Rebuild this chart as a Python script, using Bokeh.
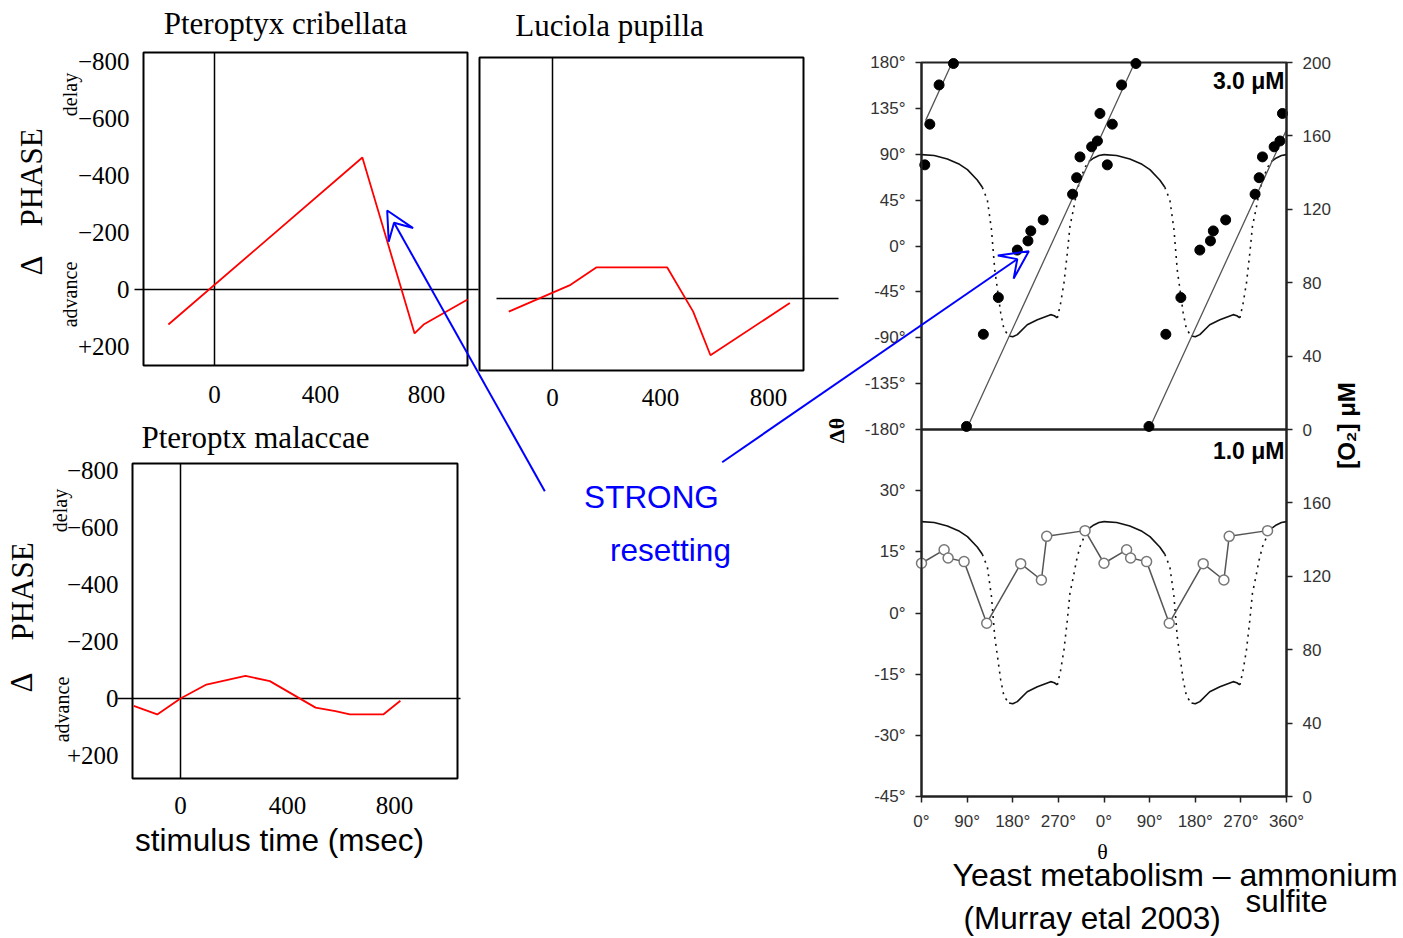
import math
from bokeh.plotting import figure
from bokeh.models import Range1d, LinearAxis, FixedTicker, Arrow, VeeHead
from bokeh.core.properties import value
from bokeh.embed import file_html
from bokeh.resources import INLINE

W, H = 1403, 938
SERIF = "Liberation Serif"
SANS = "Liberation Sans"
RED = "#ff0000"
BLUE = "#0000ff"
NAN = float("nan")

# ---------------- data ----------------
# Firefly phase response curves (stimulus time in msec, phase shift; negative = delay)
cribellata_time = [-174, 558, 755, 789, 955]
cribellata_shift = [123, -463, 154, 123, 35]
pupilla_time = [-162, 67, 162, 425, 521, 585, 879]
pupilla_shift = [46, -48, -109, -109, 46, 199, 16]
malaccae_time = [-175, -87, 0, 97, 243, 334, 505, 579, 633, 758, 822]
malaccae_shift = [26, 56, 0, -49, -79, -61, 32, 44, 56, 56, 8]

shift_ticks = [-800, -600, -400, -200, 0, 200]
shift_tick_labels = ["\u2212800", "\u2212600", "\u2212400", "\u2212200", "0", "+200"]
time_ticks = [0, 400, 800]

# Yeast metabolism (Murray et al 2003), one cycle of theta (double plotted)
theta_3uM = [6.5, 16.4, 34.7, 63, 88.7, 122, 151.6, 189, 210, 215.6, 240, 298, 306, 312.6, 335.6, 347, 352]
dtheta_3uM = [79.6, 119.5, 158, 179, -177, -86.6, -50.6, -4, 5, 14.8, 25.6, 50.8, 67, 87.4, 97.3, 103, 130]
fit_theta = [8, 60.5, NAN, 88.6, 420.7, NAN, 448.6, 720]
fit_dtheta = [123, 180, NAN, -180, 180, NAN, -180, 114]
theta_1uM = [0, 44.6, 52.5, 84, 128.7, 195.7, 236.5, 247, 322.6]
dtheta_1uM = [12.2, 15.5, 13.5, 12.6, -2.5, 12.1, 8.1, 18.8, 20.2]

o2_high_theta = [0, 25, 51, 75, 90.6, 110, 120]
o2_high = [149.8, 149.3, 147.4, 144.5, 141.6, 136, 132]
o2_fall_theta = [120, 130, 138, 144.5, 150, 156.3, 162.8, 172.7]
o2_fall = [132, 125, 109, 87, 76, 63.5, 54.4, 51]
o2_low_theta = [172.7, 180, 189, 208.6, 228.6, 254.8, 262, 268]
o2_low = [51, 50.5, 51.7, 57.1, 59.8, 62.6, 62, 60.8]
o2_rise_theta = [268, 274.5, 281, 287.7, 292.8, 299.6, 306, 312.6, 323.8, 330]
o2_rise = [60.8, 68.9, 79.8, 96.2, 110.7, 119.8, 128.9, 136.1, 143.4, 146]
o2_end_theta = [330, 340, 350, 360]
o2_end = [146, 148, 149.3, 149.8]

theta_ticks = [0, 90, 180, 270, 360, 450, 540, 630, 720]
theta_tick_labels = ["0°", "90°", "180°", "270°", "0°", "90°", "180°", "270°", "360°"]
dtheta_ticks_3uM = [-180, -135, -90, -45, 0, 45, 90, 135, 180]
dtheta_ticks_1uM = [-45, -30, -15, 0, 15, 30]
o2_ticks_3uM = [0, 40, 80, 120, 160, 200]
o2_ticks_1uM = [0, 40, 80, 120, 160]


def two_cycles(th, v):
    return list(th) + [t + 360 for t in th], list(v) + list(v)


# ---------------- layout (page pixels) ----------------
# firefly panels: frame box, pixel of the zero point, pixels per data unit
FF = {
    "cri": dict(L=143, R=467, T=52, B=365, x0=214, y0=289, ppx=106 / 400, hl=(134, 478), yaxis=True, xs=20),
    "pup": dict(L=479, R=803, T=57, B=370, x0=552, y0=298, ppx=108 / 400, hl=(496, 838), yaxis=False, xs=18),
    "mal": dict(L=132, R=457, T=463, B=778, x0=180, y0=698, ppx=107 / 400, hl=(117, 460), yaxis=True, xs=18),
}
PPY = 57 / 200
YL, YR, YT, YM, YB = 921, 1286, 62, 429, 796   # yeast panels


def value_at(px, px_a, px_b, v_a, v_b):
    return v_a + (px - px_a) * (v_b - v_a) / (px_b - px_a)


xr, yr = {}, {}
for n, g in FF.items():
    xr[n] = Range1d(-g["x0"] / g["ppx"], (W - g["x0"]) / g["ppx"])
    yr[n] = Range1d((H - g["y0"]) / PPY, -g["y0"] / PPY)
xr["theta"] = Range1d(value_at(0, YL, YR, 0, 720), value_at(W, YL, YR, 0, 720))
for n, (pb, pt, vb, vt) in {"d3": (YM, YT, -180, 180), "o3": (YM, YT, 0, 200),
                            "d1": (YB, YM, -45, 45), "o1": (YB, YM, 0, 200)}.items():
    yr[n] = Range1d(value_at(H, pb, pt, vb, vt), value_at(0, pb, pt, vb, vt))

c = figure(width=W, height=H, x_range=Range1d(0, W), y_range=Range1d(H, 0),
           output_backend="svg", toolbar_location=None, title_location=None,
           x_axis_location=None, y_axis_location=None, min_border=0,
           outline_line_color=None, background_fill_color="white", border_fill_color="white")
c.grid.visible = False
c.extra_x_ranges = xr
c.extra_y_ranges = yr


def style_axis(ax, font, size, color, standoff, tick_out, line_color):
    ax.axis_line_color = line_color
    ax.axis_line_width = 2
    ax.major_tick_line_color = line_color if tick_out else None
    ax.major_tick_line_width = 1.5
    ax.major_tick_out = tick_out
    ax.major_tick_in = 0
    ax.minor_tick_line_color = None
    ax.major_label_text_font = font
    ax.major_label_text_font_size = size
    ax.major_label_text_color = color
    ax.major_label_standoff = standoff


# ---------------- firefly panels ----------------
series = {"cri": (cribellata_time, cribellata_shift), "pup": (pupilla_time, pupilla_shift),
          "mal": (malaccae_time, malaccae_shift)}
for n, g in FF.items():
    t, s = series[n]
    xl = (g["L"] - g["x0"]) / g["ppx"]
    yb = (g["B"] - g["y0"]) / PPY
    yt = (g["T"] - g["y0"]) / PPY
    c.quad(left=[g["L"]], right=[g["R"]], top=[g["T"]], bottom=[g["B"]], fill_color=None,
           line_color="black", line_width=2)
    hx0 = (g["hl"][0] - g["x0"]) / g["ppx"]
    hx1 = (g["hl"][1] - g["x0"]) / g["ppx"]
    c.segment(x0=[hx0, 0], y0=[0, yb], x1=[hx1, 0], y1=[0, yt], color="black", line_width=1.5,
              x_range_name=n, y_range_name=n)
    c.line(t, s, color=RED, line_width=1.8, x_range_name=n, y_range_name=n)
    ax = LinearAxis(x_range_name=n, y_range_name=n, fixed_location=yb,
                    ticker=FixedTicker(ticks=time_ticks))
    style_axis(ax, SERIF, "25px", "black", g["xs"], 0, None)
    c.add_layout(ax, "below")
    if g["yaxis"]:
        ay = LinearAxis(x_range_name=n, y_range_name=n, fixed_location=xl,
                        ticker=FixedTicker(ticks=shift_ticks),
                        major_label_overrides=dict(zip(shift_ticks, shift_tick_labels)))
        style_axis(ay, SERIF, "25px", "black", 14, 0, None)
        c.add_layout(ay, "left")

# ---------------- yeast panels ----------------
c.quad(left=[YL, YL], right=[YR, YR], top=[YT, YM], bottom=[YM, YB], fill_color=None,
       line_color="#222", line_width=2)
for on in ("o3", "o1"):
    for th, v, dash in ((o2_high_theta, o2_high, "solid"), (o2_fall_theta, o2_fall, "2 5"),
                        (o2_low_theta, o2_low, "solid"), (o2_rise_theta, o2_rise, "2 5"),
                        (o2_end_theta, o2_end, "solid")):
        for k in (0, 360):
            c.line([x + k for x in th], v, color="#111", line_width=1.6, line_dash=dash,
                   x_range_name="theta", y_range_name=on)

c.line(fit_theta, fit_dtheta, color="#555", line_width=1.3, x_range_name="theta", y_range_name="d3")
x3, y3 = two_cycles(theta_3uM, dtheta_3uM)
c.scatter(x3, y3, size=10, color="black", x_range_name="theta", y_range_name="d3")
x1, y1 = two_cycles(theta_1uM, dtheta_1uM)
c.line(x1, y1, color="#555", line_width=1.5, x_range_name="theta", y_range_name="d1")
c.scatter(x1, y1, size=10, fill_color="white", line_color="#777", line_width=1.5,
          x_range_name="theta", y_range_name="d1")

for dn, on, dt, ot, lo, hi in (("d3", "o3", dtheta_ticks_3uM, o2_ticks_3uM, -180, 180),
                               ("d1", "o1", dtheta_ticks_1uM, o2_ticks_1uM, -45, 45)):
    al = LinearAxis(x_range_name="theta", y_range_name=dn, fixed_location=0, bounds=(lo, hi),
                    ticker=FixedTicker(ticks=dt), major_label_overrides={d: f"{d}°" for d in dt})
    style_axis(al, SANS, "17px", "#333", 10, 6, "#222")
    c.add_layout(al, "left")
    ar = LinearAxis(x_range_name="theta", y_range_name=on, fixed_location=720, bounds=(0, 200),
                    ticker=FixedTicker(ticks=ot))
    style_axis(ar, SANS, "17px", "#333", 10, 6, "#222")
    c.add_layout(ar, "right")
ab = LinearAxis(x_range_name="theta", y_range_name="d1", fixed_location=-45, bounds=(0, 720),
                ticker=FixedTicker(ticks=theta_ticks),
                major_label_overrides=dict(zip(theta_ticks, theta_tick_labels)))
style_axis(ab, SANS, "17px", "#333", 9, 6, "#222")
c.add_layout(ab, "below")


# ---------------- texts and arrows ----------------
def txt(x, y, s, font=SERIF, size="31px", align="center", base="alphabetic",
        color="black", angle=0, style="normal"):
    c.text(x=[x], y=[y], text=[s], text_font=value(font), text_font_size=size,
           text_align=align, text_baseline=base, text_color=color, angle=angle,
           text_font_style=style)


txt(285, 22.5, "Pteroptyx cribellata")
txt(609, 24.5, "Luciola pupilla")
txt(255, 436.5, "Pteroptx malaccae")
V = math.pi / 2
for x, y, s in ((31, 177, "PHASE"), (31, 265, "\u0394"), (22, 591, "PHASE"), (21, 682, "\u0394")):
    txt(x, y, s, base="middle", angle=V)
for x, y, s in ((69, 94, "delay"), (69, 294, "advance"), (59, 510, "delay"), (61, 709, "advance")):
    txt(x, y, s, size="20px", base="middle", angle=V)
txt(279, 839, "stimulus time (msec)", font=SANS, size="31.5px")
txt(651, 496, "STRONG", font=SANS, size="31.5px", color=BLUE)
txt(670, 549, "resetting", font=SANS, size="31.5px", color=BLUE)
txt(952, 874, "Yeast metabolism \u2013 ammonium", font=SANS, size="32px", align="left")
txt(1245, 900, "sulfite", font=SANS, size="31.5px", align="left")
txt(963, 917, "(Murray etal 2003)", font=SANS, size="31.5px", align="left")
txt(1284, 80, "3.0 \u03bcM", font=SANS, size="23px", align="right", style="bold")
txt(1284, 450, "1.0 \u03bcM", font=SANS, size="23px", align="right", style="bold")
txt(1102, 851, "\u03b8", size="22px")
txt(836, 430, "\u0394\u03b8", size="22px", base="middle", angle=V, style="bold")
txt(1346, 425, "[O\u2082] \u03bcM", font=SANS, size="24px", base="middle", angle=V, style="bold")

for xs, ys, xe, ye in ((544.3, 490.7, 386.7, 210), (721.7, 461.7, 1028.3, 250.7)):
    c.add_layout(Arrow(x_start=xs, y_start=ys, x_end=xe, y_end=ye, line_color=BLUE, line_width=2,
                       end=VeeHead(size=28, line_color=BLUE, line_width=2, fill_color=None)))

open("out.html", "w").write(file_html(c, INLINE))
